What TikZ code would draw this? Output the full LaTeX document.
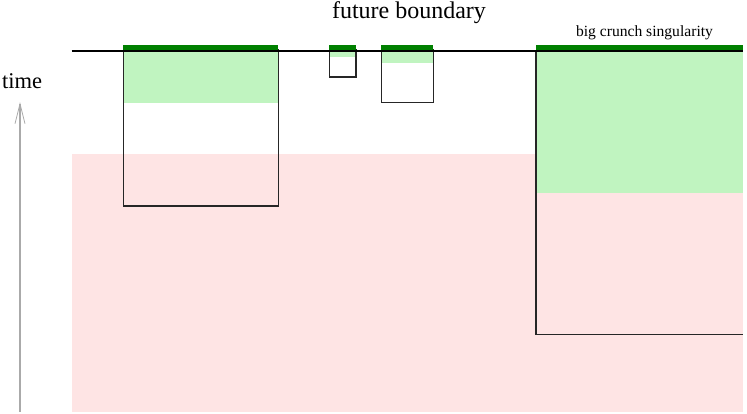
\documentclass[tikz,border=0pt]{standalone}
\usepackage{fontspec}
\setmainfont{Liberation Serif}
\usetikzlibrary{arrows.meta}
\definecolor{pastpink}{RGB}{254,228,228}
\definecolor{lightgreen}{RGB}{192,244,192}
\definecolor{darkgreen}{RGB}{0,128,0}
\definecolor{arrowgray}{RGB}{170,170,170}

\begin{document}
\begin{tikzpicture}[x=1pt, y=-1pt,
  region/.style={line width=1.6pt, black!85},
  boundary/.style={line width=2.5pt, black},
  crunch/.style={fill=darkgreen}]
\useasboundingbox (0,0) rectangle (747,413);

% past region
\fill[pastpink] (71.7,154) rectangle (743,412);

% green parts
\fill[lightgreen] (123.3,50) rectangle (278.3,102.7);
\fill[lightgreen] (329.3,50) rectangle (355.7,57.3);
\fill[lightgreen] (381.3,50) rectangle (433.3,63.3);
\fill[lightgreen] (536,50) rectangle (743,192.7);

% boxes
\draw[region] (123.3,50) rectangle (278.3,205.7);
\draw[region] (329.3,50) rectangle (355.7,76.7);
\draw[region] (381.3,50) rectangle (433.3,102.3);
\draw[region] (536,50) -- (536,334.5) -- (743,334.5);

% future boundary
\draw[boundary] (71.7,50.8) -- (743,50.8);
\fill[crunch] (123.3,45.3) rectangle (278.3,49.6);
\fill[crunch] (329.3,45.3) rectangle (355.7,49.6);
\fill[crunch] (381.3,45.3) rectangle (433.3,49.6);
\fill[crunch] (536,45.3) rectangle (743,49.6);

% labels
\node[anchor=base, inner sep=0pt, font=\fontsize{24}{28}\selectfont] (future) at (409,18) {future boundary};
\node[anchor=base, inner sep=0pt, font=\fontsize{15.6}{18}\selectfont] (crunchlabel) at (644.5,36.5) {big crunch singularity};
\node[anchor=base, inner sep=0pt, font=\fontsize{22.5}{26}\selectfont] (time) at (22,88) {time};

% time axis
\coordinate (t0) at (20,412);
\coordinate (t1) at (20,102);
\draw[arrowgray, line width=1.4pt, -{Straight Barb[length=20pt, width=10pt, line width=0.8pt]}] (t0) -- (t1);
\end{tikzpicture}
\end{document}
